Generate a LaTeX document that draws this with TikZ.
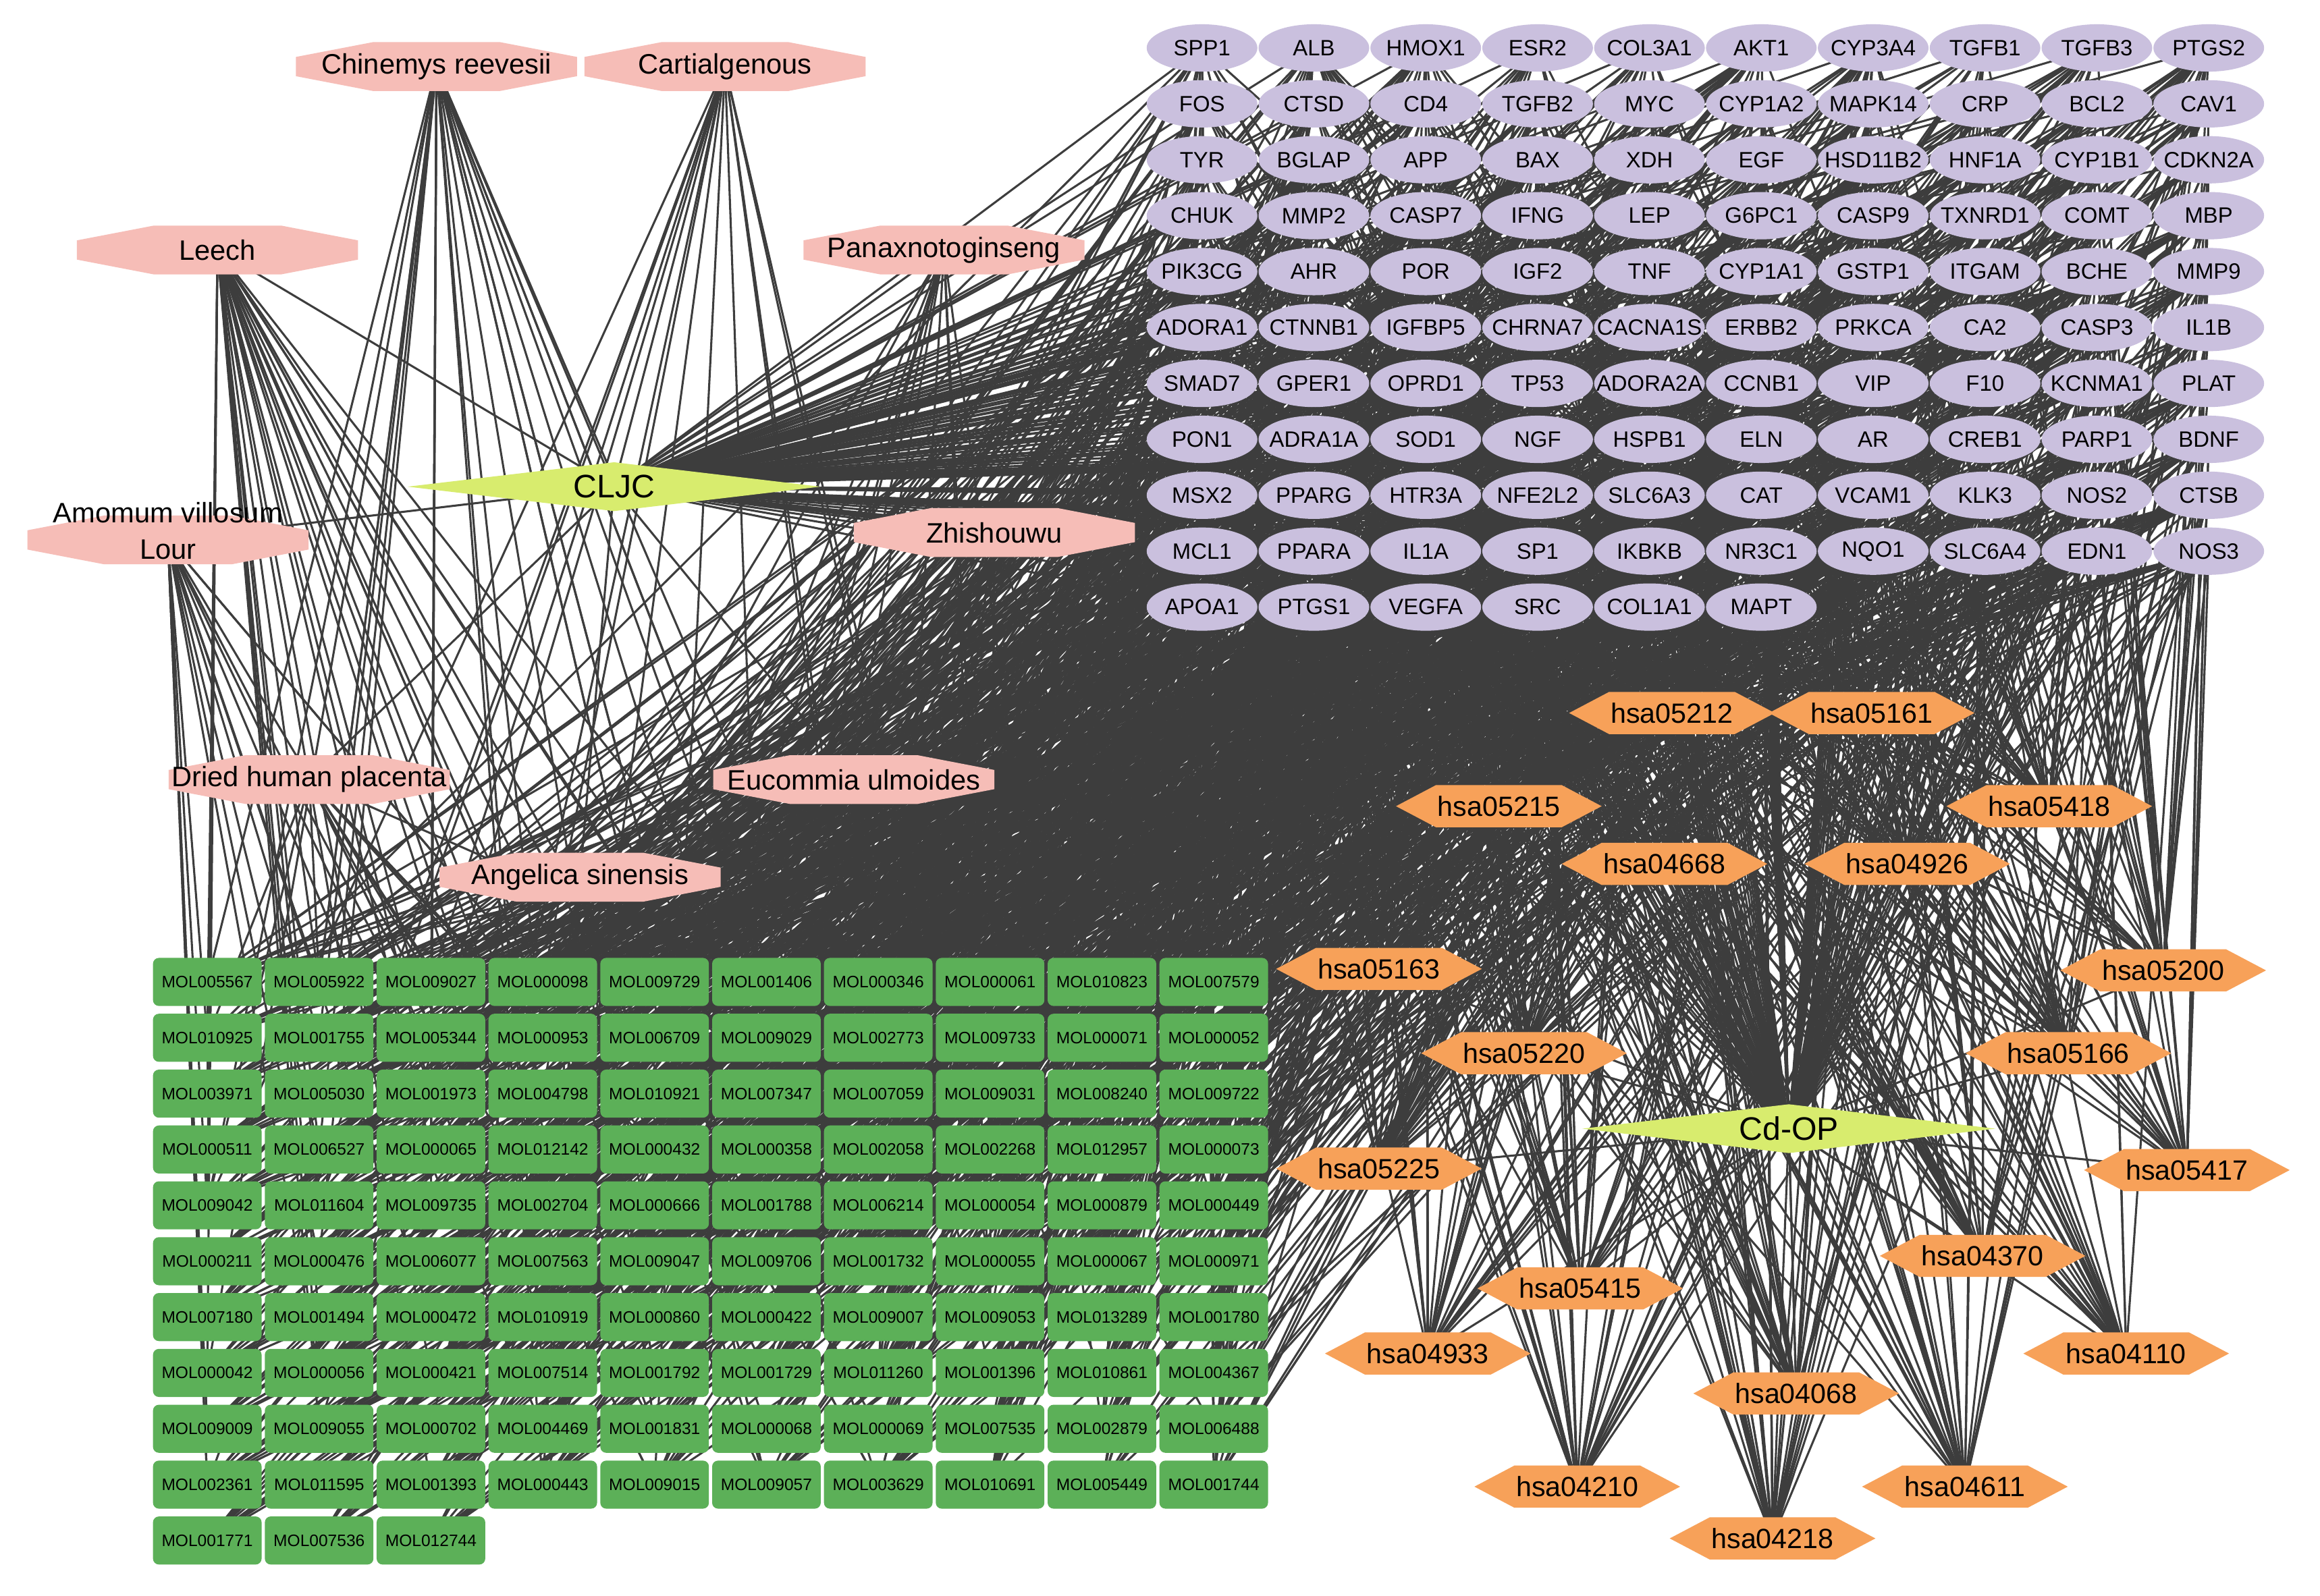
\documentclass[tikz,border=0pt]{standalone}
\usepackage{fontspec}
\setmainfont{Liberation Sans}
\usetikzlibrary{calc}
\definecolor{edgec}{RGB}{61,61,61}
\definecolor{tgtc}{RGB}{202,192,222}
\definecolor{molc}{RGB}{92,176,88}
\definecolor{herbc}{RGB}{246,189,183}
\definecolor{keggc}{RGB}{247,161,89}
\definecolor{hubc}{RGB}{216,236,110}
\pgfdeclarelayer{bgfill}
\pgfdeclarelayer{edges}
\pgfsetlayers{bgfill,edges,main}
\begin{document}
\begin{tikzpicture}[x=1pt,y=-1pt,
  edge/.style={draw=edgec, line width=1.4pt},
  tgt/.style={rectangle, inner sep=0pt, minimum width=74.8pt, minimum height=32pt,
    font=\fontsize{15}{15}\selectfont,
    path picture={\fill[tgtc] (path picture bounding box.center) ellipse [x radius=37.4pt, y radius=16pt];}},
  mol/.style={rectangle, rounded corners=4pt, fill=molc, inner sep=0pt,
    minimum width=73.4pt, minimum height=32.5pt, font=\fontsize{11.2}{11.2}\selectfont},
  herb/.style={rectangle, inner sep=0pt, minimum width=190pt, minimum height=33pt,
    font=\fontsize{19}{24.5}\selectfont,
    path picture={\fill[herbc]
      ([yshift=-10pt]path picture bounding box.north west) --
      ([xshift=52pt]path picture bounding box.north west) --
      ([xshift=-52pt]path picture bounding box.north east) --
      ([yshift=-10pt]path picture bounding box.north east) --
      ([yshift=10pt]path picture bounding box.south east) --
      ([xshift=-52pt]path picture bounding box.south east) --
      ([xshift=52pt]path picture bounding box.south west) --
      ([yshift=10pt]path picture bounding box.south west) -- cycle;}},
  kegg/.style={rectangle, inner sep=0pt, minimum width=139pt, minimum height=28.5pt,
    font=\fontsize{18.8}{18.8}\selectfont,
    path picture={\fill[keggc]
      (path picture bounding box.west) --
      ([xshift=27pt]path picture bounding box.north west) --
      ([xshift=-27pt]path picture bounding box.north east) --
      (path picture bounding box.east) --
      ([xshift=-27pt]path picture bounding box.south east) --
      ([xshift=27pt]path picture bounding box.south west) -- cycle;}},
  hub/.style={rectangle, inner sep=0pt, minimum width=279pt, minimum height=33pt,
    font=\fontsize{22}{22}\selectfont,
    path picture={\fill[hubc]
      (path picture bounding box.west) -- (path picture bounding box.north) --
      (path picture bounding box.east) -- (path picture bounding box.south) -- cycle;}}
]
\useasboundingbox (0,0) rectangle (1568,1078.5);
\begin{pgfonlayer}{bgfill}
\fill[white] (0,0) rectangle (1568,1078.5);
\end{pgfonlayer}

% ---------- targets ----------
\foreach \nm [count=\i from 0] in {
SPP1,ALB,HMOX1,ESR2,COL3A1,AKT1,CYP3A4,TGFB1,TGFB3,PTGS2,
FOS,CTSD,CD4,TGFB2,MYC,CYP1A2,MAPK14,CRP,BCL2,CAV1,
TYR,BGLAP,APP,BAX,XDH,EGF,HSD11B2,HNF1A,CYP1B1,CDKN2A,
CHUK,MMP2,CASP7,IFNG,LEP,G6PC1,CASP9,TXNRD1,COMT,MBP,
PIK3CG,AHR,POR,IGF2,TNF,CYP1A1,GSTP1,ITGAM,BCHE,MMP9,
ADORA1,CTNNB1,IGFBP5,CHRNA7,CACNA1S,ERBB2,PRKCA,CA2,CASP3,IL1B,
SMAD7,GPER1,OPRD1,TP53,ADORA2A,CCNB1,VIP,F10,KCNMA1,PLAT,
PON1,ADRA1A,SOD1,NGF,HSPB1,ELN,AR,CREB1,PARP1,BDNF,
MSX2,PPARG,HTR3A,NFE2L2,SLC6A3,CAT,VCAM1,KLK3,NOS2,CTSB,
MCL1,PPARA,IL1A,SP1,IKBKB,NR3C1,NQO1,SLC6A4,EDN1,NOS3,
APOA1,PTGS1,VEGFA,SRC,COL1A1,MAPT}{
  \pgfmathtruncatemacro\cc{mod(\i,10)}
  \pgfmathtruncatemacro\rr{floor(\i/10)}
  \node[tgt] (t\i) at ({812.4+75.6*\cc},{32.4+37.8*\rr}) {\nm};
}

% ---------- compounds ----------
\foreach \nm [count=\i from 0] in {
MOL005567,MOL005922,MOL009027,MOL000098,MOL009729,MOL001406,MOL000346,MOL000061,MOL010823,MOL007579,
MOL010925,MOL001755,MOL005344,MOL000953,MOL006709,MOL009029,MOL002773,MOL009733,MOL000071,MOL000052,
MOL003971,MOL005030,MOL001973,MOL004798,MOL010921,MOL007347,MOL007059,MOL009031,MOL008240,MOL009722,
MOL000511,MOL006527,MOL000065,MOL012142,MOL000432,MOL000358,MOL002058,MOL002268,MOL012957,MOL000073,
MOL009042,MOL011604,MOL009735,MOL002704,MOL000666,MOL001788,MOL006214,MOL000054,MOL000879,MOL000449,
MOL000211,MOL000476,MOL006077,MOL007563,MOL009047,MOL009706,MOL001732,MOL000055,MOL000067,MOL000971,
MOL007180,MOL001494,MOL000472,MOL010919,MOL000860,MOL000422,MOL009007,MOL009053,MOL013289,MOL001780,
MOL000042,MOL000056,MOL000421,MOL007514,MOL001792,MOL001729,MOL011260,MOL001396,MOL010861,MOL004367,
MOL009009,MOL009055,MOL000702,MOL004469,MOL001831,MOL000068,MOL000069,MOL007535,MOL002879,MOL006488,
MOL002361,MOL011595,MOL001393,MOL000443,MOL009015,MOL009057,MOL003629,MOL010691,MOL005449,MOL001744,
MOL001771,MOL007536,MOL012744}{
  \pgfmathtruncatemacro\cc{mod(\i,10)}
  \pgfmathtruncatemacro\rr{floor(\i/10)}
  \node[mol] (m\i) at ({140.1+75.58*\cc},{663.8+37.76*\rr}) {\nm};
}

% ---------- herbs ----------
\node[herb] (h0) at (295,45) {Chinemys reevesii};
\node[herb] (h1) at (490,45) {Cartialgenous};
\node[herb] (h2) at (147,169) {Leech};
\node[herb] (h3) at (638,169) {Panaxnotoginseng};
\node[herb] (h4) at (113.5,365) {\smash{\begin{tabular}{@{}c@{}}Amomum villosum\\Lour\end{tabular}}};
\node[herb] (h5) at (672,360) {Zhishouwu};
\node[herb] (h6) at (209,527) {Dried human placenta};
\node[herb] (h7) at (577,527) {Eucommia ulmoides};
\node[herb] (h8) at (392,593) {Angelica sinensis};

% ---------- hubs ----------
\node[hub] (cljc) at (415,329) {CLJC};
\node[hub] (cdop) at (1209,763) {Cd-OP};

% ---------- pathways ----------
\node[kegg] (p0) at (1130,482) {hsa05212};
\node[kegg] (p1) at (1265,482) {hsa05161};
\node[kegg] (p2) at (1013,545) {hsa05215};
\node[kegg] (p3) at (1385,545) {hsa05418};
\node[kegg] (p4) at (1125,584) {hsa04668};
\node[kegg] (p5) at (1289,584) {hsa04926};
\node[kegg] (p6) at (932,655) {hsa05163};
\node[kegg] (p7) at (1462,656) {hsa05200};
\node[kegg] (p8) at (1030,712) {hsa05220};
\node[kegg] (p9) at (1398,712) {hsa05166};
\node[kegg] (p10) at (932,790) {hsa05225};
\node[kegg] (p11) at (1478,791) {hsa05417};
\node[kegg] (p12) at (1340,849) {hsa04370};
\node[kegg] (p13) at (1068,871) {hsa05415};
\node[kegg] (p14) at (965,915) {hsa04933};
\node[kegg] (p15) at (1437,915) {hsa04110};
\node[kegg] (p16) at (1214,942) {hsa04068};
\node[kegg] (p17) at (1066,1005) {hsa04210};
\node[kegg] (p18) at (1328,1005) {hsa04611};
\node[kegg] (p19) at (1198,1040) {hsa04218};

% ---------- edges ----------
\begin{pgfonlayer}{edges}
\pgfmathsetseed{4242}
% compound - target
\foreach \i in {0,...,102}{
  \foreach \k in {1,...,11}{
    \pgfmathtruncatemacro\j{random(0,105)}
    \draw[edge] (m\i.center) -- (t\j.center);
  }
}
\foreach \i/\n in {3/55,65/30,35/18,49/18,4/12,13/12,24/10,44/10}{
  \foreach \k in {1,...,\n}{
    \pgfmathtruncatemacro\j{random(0,105)}
    \draw[edge] (m\i.center) -- (t\j.center);
  }
}
% herb - compound
\foreach \h/\n/\a/\b in {0/25/0/6,1/14/0/7,2/30/0/6,3/12/1/8,4/18/0/3,5/12/2/9,6/12/0/5,7/8/2/9,8/10/0/6}{
  \foreach \k in {1,...,\n}{
    \pgfmathtruncatemacro\cc{random(\a,\b)}
    \pgfmathtruncatemacro\rr{random(0,9)}
    \pgfmathtruncatemacro\j{10*\rr+\cc}
    \draw[edge] (h\h.center) -- (m\j.center);
  }
}
% formula - herbs
\foreach \h in {0,...,8}{\draw[edge] (cljc.center) -- (h\h.center);}
% hubs - targets
\foreach \t in {0,...,105}{
  \draw[edge] (cljc.center) -- (t\t.center);
  \draw[edge] (cdop.center) -- (t\t.center);
}
% disease - pathways
\foreach \q in {0,...,19}{\draw[edge] (cdop.center) -- (p\q.center);}
% pathway - target
\foreach \q in {0,...,19}{
  \foreach \k in {1,...,28}{
    \pgfmathtruncatemacro\j{random(0,105)}
    \draw[edge] (p\q.center) -- (t\j.center);
  }
}
\end{pgfonlayer}
\end{tikzpicture}
\end{document}
